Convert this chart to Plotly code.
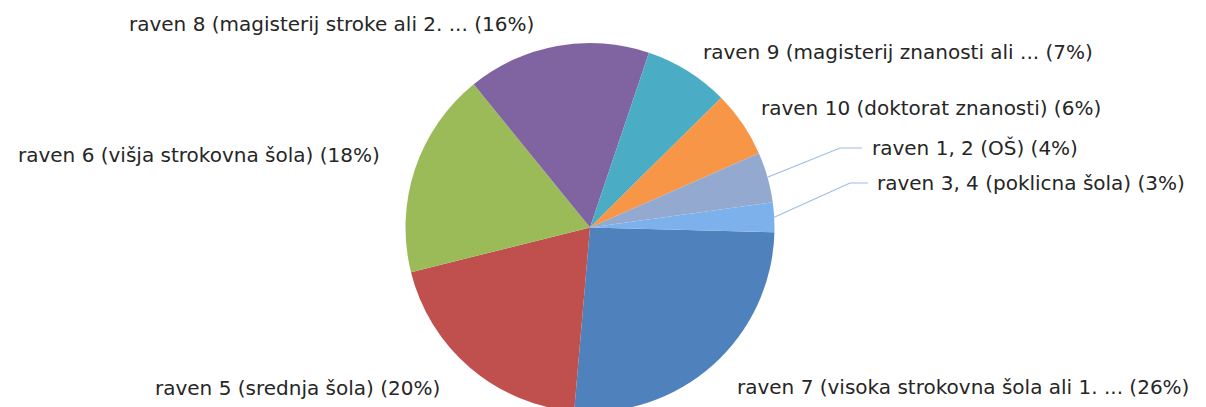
import math
import plotly.graph_objects as go

# ---- data ----
labels = [
    "raven 7 (visoka strokovna šola ali 1. ...",
    "raven 5 (srednja šola)",
    "raven 6 (višja strokovna šola)",
    "raven 8 (magisterij stroke ali 2. ...",
    "raven 9 (magisterij znanosti ali ...",
    "raven 10 (doktorat znanosti)",
    "raven 1, 2 (OŠ)",
    "raven 3, 4 (poklicna šola)",
]
values = [25.9, 19.7, 18.0, 16.0, 7.4, 5.8, 4.4, 2.6]
colors = ["#4F81BD", "#C0504D", "#9BBB59", "#8064A2",
          "#4BACC6", "#F79646", "#93A9CF", "#7DB1EB"]

# ---- layout constants ----
W, H = 1206, 407
OFF = 8          # page body margin of the html page
MT, MB = 35, 3   # figure margins (figure pixels)
PH = H - MT - MB
ROT = 91.5
CX = 590         # pie centre, screen pixels
CY = OFF + MT + PH / 2
R = PH / 2

# label placement in screen pixels: (x, y, anchor)
label_pos = [
    (963, 387, "center"),
    (297, 388, "center"),
    (199, 155, "center"),
    (331, 24, "center"),
    (898, 52, "center"),
    (931, 108, "center"),
    (870, 148, "left"),
    (875, 183, "left"),
]
# leader lines: index -> (elbow x, end x), screen pixels
leaders = {6: (840, 862), 7: (850, 868)}


def px(x):
    return (x - OFF) / W


def py(y):
    return (H - MB - (y - OFF)) / PH


fig = go.Figure(go.Pie(
    labels=labels,
    values=values,
    sort=False,
    direction="clockwise",
    rotation=ROT,
    marker=dict(colors=colors, line=dict(width=0)),
    textinfo="none",
    hoverinfo="label+percent",
    showlegend=False,
    domain=dict(x=[0, 2 * (CX - OFF) / W], y=[0, 1]),
))

total = sum(values)
annotations = []
shapes = []
cum = 0.0
for i, (lab, v) in enumerate(zip(labels, values)):
    pct = round(v / total * 100)
    x, y, anc = label_pos[i]
    annotations.append(dict(
        x=px(x), y=py(y), xref="paper", yref="paper",
        text=f"{lab} ({pct}%)", showarrow=False,
        xanchor=anc, yanchor="middle",
        font=dict(family="DejaVu Sans", size=20, color="#262626"),
    ))
    mid = math.radians(ROT + 360 * (cum + v / 2) / total)
    if i in leaders:
        sx = CX + R * math.sin(mid)
        sy = CY - R * math.cos(mid)
        ex, endx = leaders[i]
        shapes.append(dict(type="path", xref="paper", yref="paper",
                           path=f"M {px(sx)} {py(sy)} L {px(ex)} {py(y)} L {px(endx)} {py(y)}",
                           line=dict(color="#9DBDE6", width=1.2)))
    cum += v

fig.update_layout(
    width=W, height=H,
    margin=dict(l=0, r=0, t=MT, b=MB),
    paper_bgcolor="white",
    plot_bgcolor="white",
    annotations=annotations,
    shapes=shapes,
)

fig.write_html("out.html")
